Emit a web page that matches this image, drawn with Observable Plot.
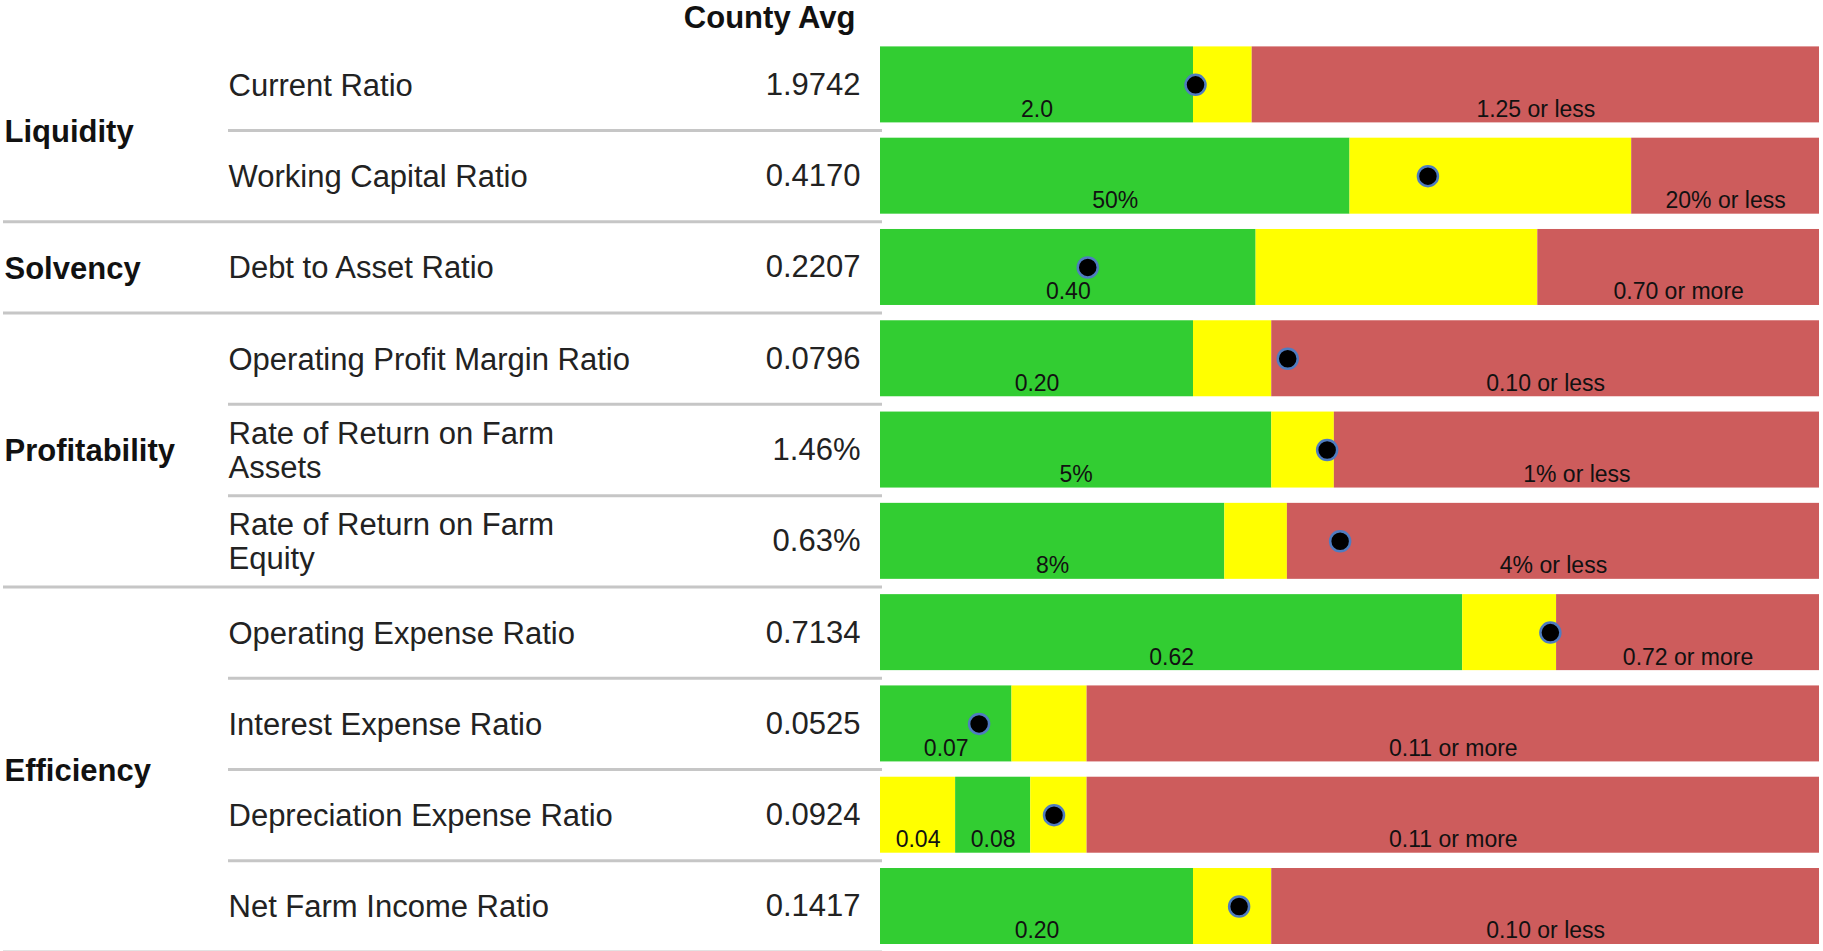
<!DOCTYPE html>
<html>
<head>
<meta charset="utf-8">
<script src="https://cdn.jsdelivr.net/npm/d3@7"></script>
<script src="https://cdn.jsdelivr.net/npm/@observablehq/plot@0.6"></script>
<style>
  html, body { margin: 0; padding: 0; background: #fff; overflow: hidden; }
</style>
</head>
<body>
<div id="chart"></div>
<script>
// ---- Data ----
const headerText = "County Avg";
const groups = ["Liquidity", "Liquidity", "Solvency", "Profitability", "Profitability", "Profitability",
  "Efficiency", "Efficiency", "Efficiency", "Efficiency"];
const metrics = ["Current Ratio", "Working Capital Ratio", "Debt to Asset Ratio", "Operating Profit Margin Ratio",
  "Rate of Return on Farm\nAssets", "Rate of Return on Farm\nEquity", "Operating Expense Ratio",
  "Interest Expense Ratio", "Depreciation Expense Ratio", "Net Farm Income Ratio"];
const countyAvgText = ["1.9742", "0.4170", "0.2207", "0.0796", "1.46%", "0.63%", "0.7134", "0.0525", "0.0924", "0.1417"];
const countyAvg = [1.9742, 0.4170, 0.2207, 0.0796, 1.46, 0.63, 0.7134, 0.0525, 0.0924, 0.1417];
// gauge extent of each row (left end, right end)
const gaugeStart = [6, 1, 0, 0.6, 30, 30, 0, 0, 0, 0.6];
const gaugeEnd = [-6, 0, 1, -0.6, -30, -30, 1, 0.5, 0.5, -0.6];
// zone thresholds of each row
const breaks = [[2.0, 1.25], [0.5, 0.2], [0.40, 0.70], [0.20, 0.10], [5, 1], [8, 4],
  [0.62, 0.72], [0.07, 0.11], [0.04, 0.08, 0.11], [0.20, 0.10]];
const zones = [["good", "fair", "poor"], ["good", "fair", "poor"], ["good", "fair", "poor"], ["good", "fair", "poor"],
  ["good", "fair", "poor"], ["good", "fair", "poor"], ["good", "fair", "poor"], ["good", "fair", "poor"],
  ["fair", "good", "fair", "poor"], ["good", "fair", "poor"]];
const zoneLabels = [["2.0", "", "1.25 or less"], ["50%", "", "20% or less"], ["0.40", "", "0.70 or more"],
  ["0.20", "", "0.10 or less"], ["5%", "", "1% or less"], ["8%", "", "4% or less"], ["0.62", "", "0.72 or more"],
  ["0.07", "", "0.11 or more"], ["0.04", "0.08", "", "0.11 or more"], ["0.20", "", "0.10 or less"]];
const zoneDomain = ["good", "fair", "poor"];
const zoneRange = ["#32cd32", "#ffff00", "#cd5c5c"];

// ---- Build tables ----
const norms = metrics.map((_, i) => d3.scaleLinear().domain([gaugeStart[i], gaugeEnd[i]]).range([0, 1]));
const rows = metrics.map((m, i) => ({
  i, group: groups[i], metric: m, avgText: countyAvgText[i], pos: norms[i](countyAvg[i])
}));
const segments = [];
metrics.forEach((_, i) => {
  const b = [gaugeStart[i], ...breaks[i], gaugeEnd[i]];
  for (let k = 0; k < b.length - 1; ++k) {
    segments.push({i, x1: norms[i](b[k]), x2: norms[i](b[k + 1]), zone: zones[i][k], label: zoneLabels[i][k]});
  }
});
const seps = metrics.map((_, i) => ({y: i + 0.5, groupEnd: i === metrics.length - 1 || groups[i] !== groups[i + 1]}));
const groupRows = Array.from(d3.group(rows, d => d.group), ([g, rs]) => ({group: g, center: d3.mean(rs, r => r.i)}));

const font = "'Liberation Sans', Arial, Helvetica, sans-serif";

const chart = Plot.plot({
  width: 1823,
  height: 951,
  marginLeft: 0, marginRight: 0, marginTop: 0, marginBottom: 0,
  style: {fontFamily: font, background: "#fff"},
  x: {domain: [0, 1], range: [880, 1819], axis: null},
  y: {domain: [-0.5, 9.5], range: [38.7, 951.6], axis: null},
  color: {domain: zoneDomain, range: zoneRange},
  marks: [
    Plot.rect(segments, {x1: "x1", x2: "x2", y1: d => d.i - 0.5, y2: d => d.i + 0.5,
      insetTop: 7.7, insetBottom: 7.6, fill: "zone"}),
    Plot.text(segments.filter(d => d.label), {x: d => (d.x1 + d.x2) / 2, y: "i", text: "label",
      lineAnchor: "bottom", dy: 32, fontSize: 23, fill: "#111"}),
    Plot.dot(rows, {x: "pos", y: "i", r: 10, fill: "#000", stroke: "#4f7cc0", strokeWidth: 2.5}),
    Plot.ruleY(seps.filter(d => !d.groupEnd), {y: "y", stroke: "#c6c6c6", strokeWidth: 3, insetLeft: 228, insetRight: 941}),
    Plot.ruleY(seps.filter(d => d.groupEnd), {y: "y", stroke: "#c6c6c6", strokeWidth: 3, insetLeft: 3, insetRight: 941}),
    Plot.text(rows, {y: "i", text: "metric", frameAnchor: "left", dx: 228, textAnchor: "start",
      lineHeight: 1.1, fontSize: 31, fill: "#222"}),
    Plot.text(rows, {y: "i", text: "avgText", frameAnchor: "left", dx: 860, textAnchor: "end",
      fontSize: 31, fill: "#222"}),
    Plot.text(groupRows, {y: "center", text: "group", frameAnchor: "left", dx: 4, dy: 1.5, textAnchor: "start",
      fontSize: 31, fontWeight: "bold", fill: "#111"}),
    Plot.text([headerText], {text: d => d, frameAnchor: "top-left", dx: 855, dy: 5, textAnchor: "end",
      lineAnchor: "top", fontSize: 31, fontWeight: "bold", fill: "#111"})
  ]
});
document.getElementById("chart").appendChild(chart);
</script>
</body>
</html>
